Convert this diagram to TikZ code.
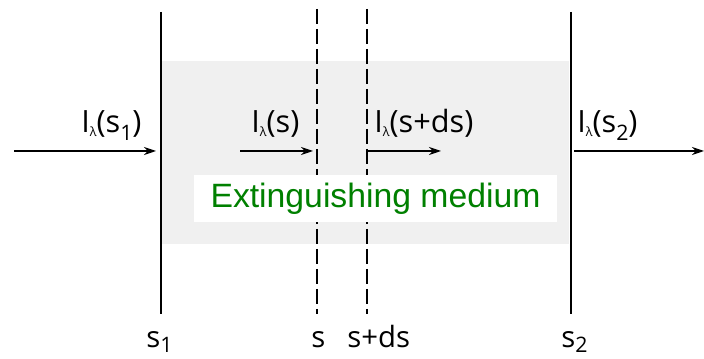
\documentclass[tikz,border=0pt]{standalone}
\usepackage{fontspec}
\setmainfont{Open Sans}
\newfontfamily\arialfont{Liberation Sans}
\usetikzlibrary{arrows.meta}
\definecolor{medgray}{HTML}{F0F0F0}
\definecolor{medgreen}{HTML}{008000}
\newcommand{\lsub}{\raisebox{-0.12em}{\fontsize{9.5}{9.5}\selectfont λ}}
\newcommand{\nsub}[1]{\raisebox{-0.26em}{\fontsize{16}{16}\selectfont #1}}
\newcommand{\bsub}[1]{\raisebox{-0.16em}{\fontsize{16}{16}\selectfont #1}}
\tikzset{
  wall/.style={line width=1.6pt},
  dashwall/.style={line width=1.6pt, dash pattern=on 11pt off 4pt},
  ray/.style={line width=0.8pt, -{Stealth[length=9pt,width=6pt]}},
  lbl/.style={anchor=base west, inner sep=0pt, font=\fontsize{22}{22}\selectfont},
  ilbl/.style={lbl, font=\fontsize{23}{23}\selectfont},
}
\begin{document}
\begin{tikzpicture}[x=0.75pt, y=-0.75pt]
\useasboundingbox (0,0) rectangle (704,359);
% medium
\fill[medgray] (161,61) rectangle (569,244);
% walls
\coordinate (s1t) at (161,12); \coordinate (s1b) at (161,314);
\coordinate (s2t) at (571,12); \coordinate (s2b) at (571,314);
\coordinate (st) at (317,9); \coordinate (sb) at (317,314);
\coordinate (sdt) at (367,9); \coordinate (sdb) at (367,314);
\draw[wall] (s1t) -- (s1b);
\draw[wall] (s2t) -- (s2b);
\draw[dashwall] (st) -- (sb);
\draw[dashwall] (sdt) -- (sdb);
% label box
\node[fill=white, minimum width=363*0.75pt, minimum height=47*0.75pt, inner sep=0pt,
      text=medgreen, font=\arialfont\fontsize{25.3}{26}\selectfont] (ext) at (375.5,198.5) {Extinguishing medium};
% rays
\coordinate (a1s) at (14,151); \coordinate (a1e) at (156,151);
\coordinate (a2s) at (240,151); \coordinate (a2e) at (313,151);
\coordinate (a3s) at (368,151); \coordinate (a3e) at (441,151);
\coordinate (a4s) at (574,151); \coordinate (a4e) at (704,151);
\draw[ray] (a1s) -- (a1e);
\draw[ray] (a2s) -- (a2e);
\draw[ray] (a3s) -- (a3e);
\draw[ray] (a4s) -- (a4e);
% intensity labels
\node[ilbl] (i1) at (81,133) {I\lsub(s\nsub{1})};
\node[ilbl] (i2) at (251,133) {I\lsub(s)};
\node[ilbl] (i3) at (374,133) {I\lsub(s+ds)};
\node[ilbl] (i4) at (577,133) {I\lsub(s\nsub{2})};
% position labels
\node[lbl] (p1) at (146,348) {s\bsub{1}};
\node[lbl] (p2) at (311,348) {s};
\node[lbl] (p3) at (347,348) {s+ds};
\node[lbl] (p4) at (561,348) {s\bsub{2}};
\end{tikzpicture}
\end{document}
